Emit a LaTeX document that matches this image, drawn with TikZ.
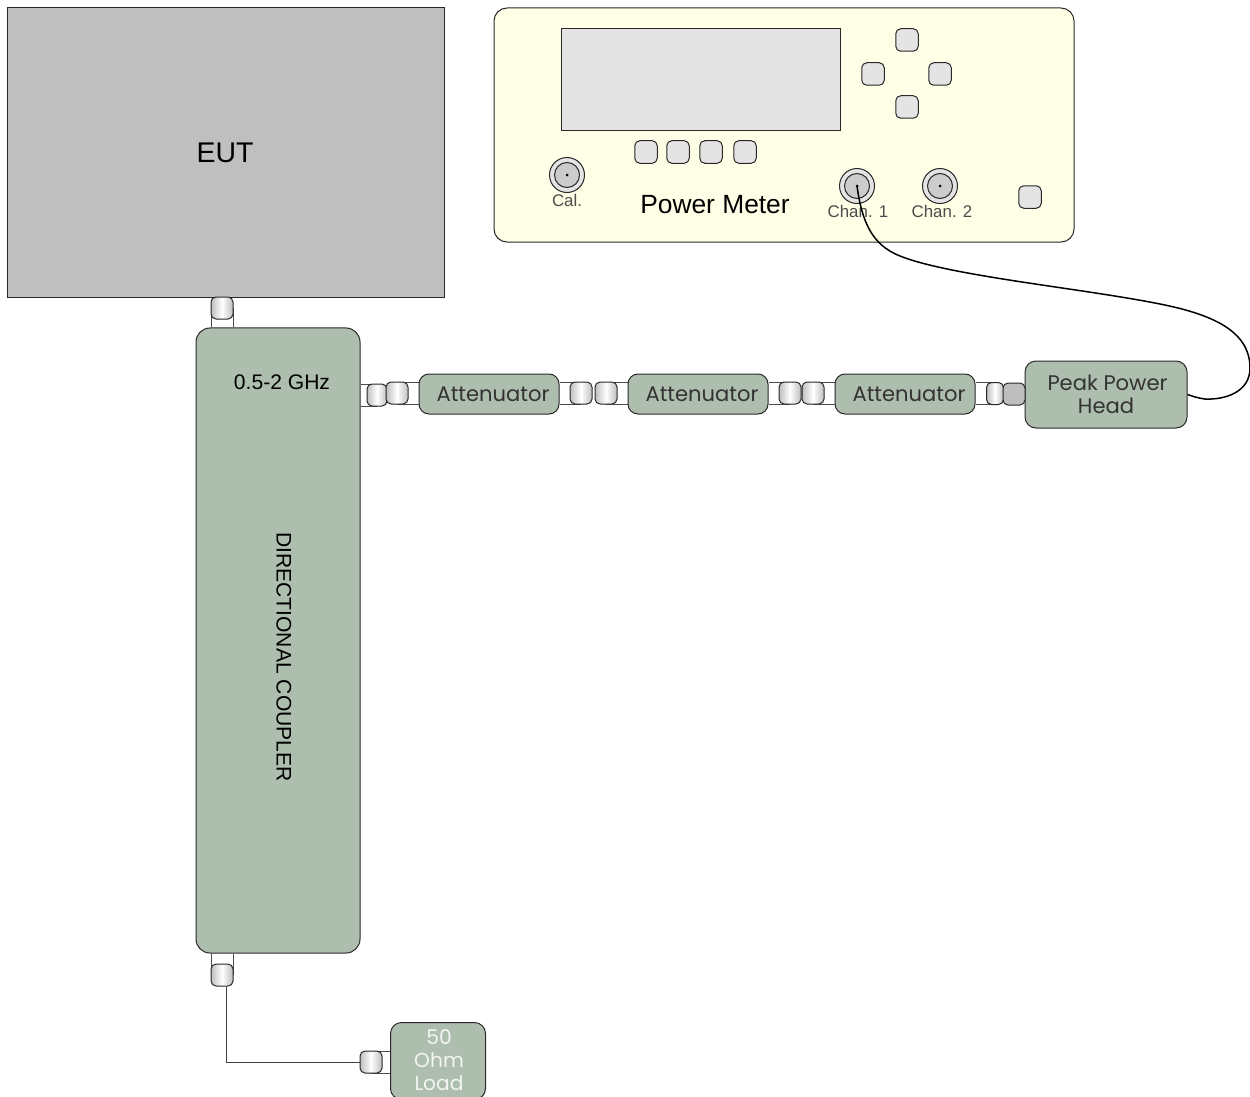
\documentclass[tikz,border=0pt]{standalone}
\usepackage{fontspec}
\setmainfont{Liberation Sans}
\newfontfamily\widefont{Poppins}
\usetikzlibrary{positioning,backgrounds}
\definecolor{eutgray}{RGB}{191,191,191}
\definecolor{meterfill}{RGB}{255,255,232}
\definecolor{panelgray}{RGB}{228,228,228}
\definecolor{rfgreen}{RGB}{173,189,174}
\definecolor{edgegray}{RGB}{40,40,40}
\definecolor{plugshade}{RGB}{190,190,190}
\tikzset{
  unit/.style  ={rectangle, rounded corners=2mm, draw=edgegray, fill=rfgreen, line width=0.2mm,
                 inner sep=0pt, align=center, font=\widefont\fontsize{12}{13.2}\selectfont, text=black!80},
  attn/.style  ={unit, minimum width=28mm, minimum height=8mm, execute at begin node=\hspace*{1.6mm}},
  plug/.style  ={rectangle, rounded corners=1mm, draw=edgegray, line width=0.2mm, inner sep=0pt,
                 minimum width=4.4mm, minimum height=4.4mm, left color=plugshade, right color=plugshade, middle color=white},
  plugv/.style ={plug, shading angle=90},
  plugend/.style={plug, left color=plugshade, right color=plugshade, middle color=plugshade},
  btn/.style   ={rectangle, rounded corners=1mm, draw=edgegray, fill=panelgray, line width=0.2mm,
                 minimum width=4.5mm, minimum height=4.5mm, inner sep=0pt},
  port/.style  ={circle, draw=edgegray, fill=panelgray, line width=0.2mm, minimum size=7mm, inner sep=0pt},
  portin/.style={circle, draw=edgegray, fill=black!20, line width=0.2mm, minimum size=5mm, inner sep=0pt},
  pin/.style   ={circle, fill=black, minimum size=0.6mm, inner sep=0pt},
  tag/.style   ={font=\fontsize{9.6}{11}\selectfont, text=black!70, inner sep=0pt},
  lbl/.style   ={inner sep=0pt, text=black},
  coax/.style  ={double=white, double distance=4.2mm, draw=black!70, line width=0.2mm},
  wire/.style  ={draw=black!75, line width=0.2mm},
}
\begin{document}
\begin{tikzpicture}[x=0.2mm, y=-0.2mm]
\useasboundingbox (0,0) rectangle (1250,1097);
% equipment
\node[rectangle, draw=edgegray, fill=eutgray, line width=0.2mm, minimum width=87.2mm, minimum height=57.8mm] (eut) at (226,152.5) {};
\node[lbl, font=\fontsize{16.2}{18}\selectfont] (eutlbl) at (225,153) {EUT};
\node[rectangle, rounded corners=2.6mm, draw=edgegray, fill=meterfill, line width=0.2mm, minimum width=116mm, minimum height=46.8mm] (meter) at (784,125) {};
\node[rectangle, draw=edgegray, fill=panelgray, line width=0.2mm, minimum width=55.8mm, minimum height=20.2mm] (screen) at (700.5,79.5) {};
\foreach \x in {646,678,711,745} \node[btn] (soft\x) at (\x,152) {};
\node[btn] (padup) at (907,40) {};
\node[btn] (padleft) at (873,74) {};
\node[btn] (padright) at (940,74) {};
\node[btn] (paddown) at (907,107) {};
\node[btn] (power) at (1030,197) {};
\foreach \n/\x/\y in {cal/567/175,chanone/857/186,chantwo/940/186} {
  \node[port] (\n) at (\x,\y) {};
  \node[portin] at (\x,\y) {};
  \node[pin] at (\x,\y) {};
}
\node[tag] (callbl) at (567,200) {Cal.};
\node[tag] (chanonelbl) at (858,211) {Chan. 1};
\node[tag] (chantwolbl) at (942,211) {Chan. 2};
\node[lbl, font=\fontsize{15}{17}\selectfont] (meterlbl) at (715,205) {Power Meter};
% rf chain
\node[unit, rounded corners=2.8mm, minimum width=32.8mm, minimum height=125mm] (coupler) at (278,640.5) {};
\node[lbl, font=\fontsize{12}{14}\selectfont] (bandlbl) at (282,382) {0.5-2 GHz};
\node[lbl, rotate=-90, font=\fontsize{12}{14}\selectfont] (couplerlbl) at (284,657) {DIRECTIONAL COUPLER};
\node[attn] (atta) at (489,394) {Attenuator};
\node[attn] (attb) at (698,394) {Attenuator};
\node[attn] (attc) at (905,394) {Attenuator};
\node[unit, rounded corners=2.2mm, minimum width=32.4mm, minimum height=13.4mm] (head) at (1106,394.5) {\hspace*{0.6mm}Peak Power\\Head};
\node[unit, rounded corners=2.2mm, minimum width=19mm, minimum height=15.4mm] (load) at (438,1061) {};
\node[inner sep=0pt, align=center, text=white!85!rfgreen, font=\widefont\fontsize{11.5}{13.2}\selectfont] (loadlbl) at (439,1060) {50\\Ohm\\Load};
\node[plug] (plugtop) at (222,308) {};
\node[plug] (plugbot) at (222,975) {};
\node[plugv, minimum width=4mm] (plugbend) at (377,395) {};
\foreach \n/\x in {pluga/397,plugb/581,plugc/606,plugd/790,pluge/813} \node[plug] (\n) at (\x,393) {};
\node[plug, minimum width=3.4mm] (plugf) at (995,393.5) {};
\node[plugend] (plughead) at (1014,394) {};
\node[plug] (plugload) at (371,1062) {};
\begin{scope}[on background layer]
\draw[coax] (plugtop.center) -- (plugtop.center |- coupler.north);
\draw[coax] (plugbot.center) -- (plugbot.center |- coupler.south);
\draw[coax] (plugbend.center) -- (plugbend.center -| coupler.east);
\draw[coax] (pluga.center) -- (pluga.center -| atta.west);
\draw[coax] (plugb.center) -- (plugb.center -| atta.east);
\draw[coax] (plugc.center) -- (plugc.center -| attb.west);
\draw[coax] (plugd.center) -- (plugd.center -| attb.east);
\draw[coax] (pluge.center) -- (pluge.center -| attc.west);
\draw[coax] (plugf.center) -- (plugf.center -| attc.east);
\draw[coax] (plugload.center) -- (plugload.center -| load.west);
\end{scope}
\draw[wire] ([xshift=0.8mm]plugbot.south) |- (plugload.west);
\draw[black, line width=0.3mm] (chanone.center) .. controls (862,222) and (872,245) .. (900,256)
  .. controls (950,276) and (1080,288) .. (1160,304)
  .. controls (1210,314) and (1250,330) .. (1250,368)
  .. controls (1250,392) and (1225,400) .. (1205,399)
  .. controls (1197,398) and (1192,396) .. (head.east);
\end{tikzpicture}
\end{document}
